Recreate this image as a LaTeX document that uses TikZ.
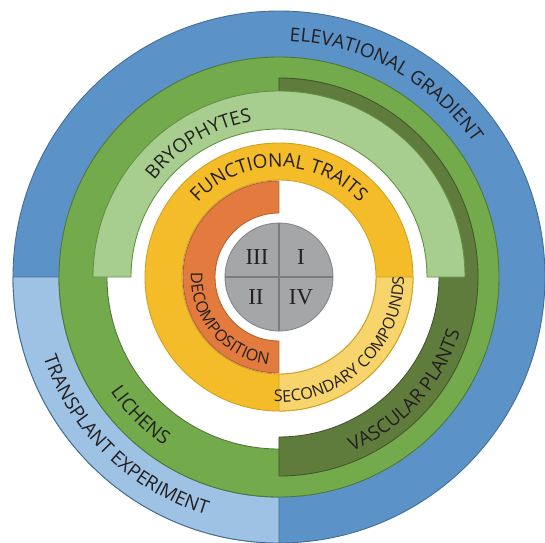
\documentclass[tikz,border=0pt]{standalone}
\usepackage{fontspec}
\setmainfont{Open Sans}
\newfontfamily\numeralfont{Liberation Serif}
\usepackage{tikz}
\usetikzlibrary{decorations.text}

\definecolor{ringblue}{HTML}{5B92C7}
\definecolor{ringlightblue}{HTML}{9DC2E3}
\definecolor{ringgreen}{HTML}{72AA4C}
\definecolor{ringlightgreen}{HTML}{A8CE8F}
\definecolor{ringdarkgreen}{HTML}{607C3D}
\definecolor{ringyellow}{HTML}{F5BC2A}
\definecolor{ringlightyellow}{HTML}{F8D46C}
\definecolor{ringorange}{HTML}{E27B3D}
\definecolor{ringgrey}{HTML}{A5A6A8}
\definecolor{labelink}{HTML}{231F20}

\newcommand\outerlabelfont{\fontsize{10.8}{12}\selectfont}
\newcommand\innerlabelfont{\fontsize{9.2}{10}\selectfont}

\begin{document}
\begin{tikzpicture}[x=0.02cm, y=0.02cm, line width=0.5pt,
  outerlabel/.style={decorate, decoration={text along path, text align=center,
    text color=labelink, text={|\outerlabelfont|#1}}},
  innerlabel/.style={decorate, decoration={text along path, text align=center,
    text color=labelink, text={|\innerlabelfont|#1}}},
  numeral/.style={font=\numeralfont\fontsize{13}{15}\selectfont, text=labelink, inner sep=0pt}]
\useasboundingbox (-279,-265) rectangle (266,277);
% ================= outer ring: elevation / transplant =================
\filldraw[fill=ringblue, draw=ringblue!75!black] (0,0) circle[radius=266];
\filldraw[fill=ringlightblue, draw=ringblue!75!black]
  (180:220) arc[start angle=180, end angle=270, radius=220]
  -- (270:266) arc[start angle=270, end angle=180, radius=266] -- cycle;
% ================= organism rings =================
% lichens (full green ring)
\filldraw[fill=ringgreen, draw=ringgreen!70!black] (0,0) circle[radius=220];
\filldraw[fill=white, draw=ringgreen!70!black] (0,0) circle[radius=172];
% vascular plants (right half)
\filldraw[fill=ringdarkgreen, draw=ringdarkgreen!70!black]
  (-90:160) arc[start angle=-90, end angle=90, radius=160]
  -- (90:199) arc[start angle=90, end angle=-90, radius=199] -- cycle;
% bryophytes (upper half)
\filldraw[fill=ringlightgreen, draw=ringgreen!85!black]
  (0:148) arc[start angle=0, end angle=180, radius=148]
  -- (180:186) arc[start angle=180, end angle=0, radius=186] -- cycle;
% ================= trait rings =================
\filldraw[fill=ringyellow, draw=ringyellow!85!black] (0,0) circle[radius=134];
\filldraw[fill=ringlightyellow, draw=ringyellow!85!black]
  (-90:97) arc[start angle=-90, end angle=0, radius=97]
  -- (0:134) arc[start angle=0, end angle=-90, radius=134] -- cycle;
\filldraw[fill=white, draw=ringyellow!85!black] (0,0) circle[radius=97];
% decomposition (left half)
\filldraw[fill=ringorange, draw=ringorange!80!black]
  (90:64) arc[start angle=90, end angle=270, radius=64]
  -- (270:96) arc[start angle=270, end angle=90, radius=96] -- cycle;
% ================= quadrants =================
\filldraw[fill=ringgrey, draw=ringgrey!80!black] (0,0) circle[radius=54];
\draw[ringgrey!75!black, line width=1pt] (0,-54) -- (0,54);
\draw[ringgrey!75!black, line width=1pt] (-54,0) -- (54,0);
\node[numeral] (qI)   at (22,20)   {I};
\node[numeral] (qII)  at (-23,-20) {II};
\node[numeral] (qIII) at (-22,20)  {III};
\node[numeral] (qIV)  at (22,-20)  {IV};
% ================= curved labels =================
\path[outerlabel={ELEVATIONAL GRADIENT}]
  (141:236) arc[start angle=141, end angle=-19, radius=236];
\path[outerlabel={TRANSPLANT EXPERIMENT}]
  (146:249) arc[start angle=146, end angle=306, radius=249];
\path[outerlabel={LICHENS}]
  (165:204) arc[start angle=165, end angle=285, radius=204];
\path[outerlabel={BRYOPHYTES}]
  (181:158) arc[start angle=181, end angle=61, radius=158];
\path[outerlabel={VASCULAR PLANTS}]
  (-112:189) arc[start angle=-112, end angle=28, radius=189];
\path[outerlabel={FUNCTIONAL TRAITS}]
  (170:110) arc[start angle=170, end angle=10, radius=110];
\path[innerlabel={DECOMPOSITION}]
  (130:88) arc[start angle=130, end angle=310, radius=88];
\path[innerlabel={SECONDARY COMPOUNDS}]
  (-136:125) arc[start angle=-136, end angle=44, radius=125];
\end{tikzpicture}
\end{document}
